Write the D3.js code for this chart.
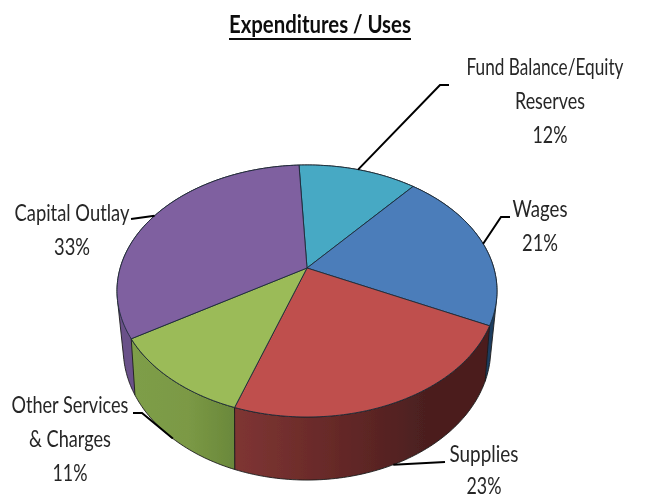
<!DOCTYPE html>
<html><head><meta charset="utf-8">
<script src="https://cdn.jsdelivr.net/npm/d3@7"></script>
<style>html,body{margin:0;padding:0;background:#fff;overflow:hidden}text{font-family:Lato,"Liberation Sans",sans-serif}</style>
</head><body><svg id="c" width="645" height="500"></svg>
<script>
const categories = ["Fund Balance/Equity Reserves","Wages","Supplies","Other Services & Charges","Capital Outlay"];
const values = [12,21,23,11,33];
const topColors = ["#46a9c4","#4b7dba","#bf504d","#9bbb59","#7f60a0"];
const labelLines = [["Fund Balance/Equity","Reserves","12%"],["Wages","21%"],["Supplies","23%"],["Other Services","& Charges","11%"],["Capital Outlay","33%"]];
const labelWidths = [[157,70,35],[55,36],[69,35],[117,82,35],[115,36]];
const labelCenters = [[545,75,550],[540,217],[484,462],[70,413],[72,221]];
const labelGaps = [34,34,32,34,34];
const leaderBends = [[[440,85],[449,85]],[[501,217],[510,217]],[[445,462]],[[142,413],[133,413]],[[131,219]]];
const leaderOnBottomRim = [false,false,true,true,false];
const title = "Expenditures / Uses";

const svg = d3.select("#c");
const defs = svg.append("defs");
defs.append("filter").attr("id","soft").append("feGaussianBlur").attr("stdDeviation",0.45);
const root = svg.append("g").attr("filter","url(#soft)");

// perspective projection of the disc: centre x, radius, apex, tilt, foreshortening
const cx = 307;
const topDisc = {R:186.8,b:268,a:-72.9,c:0.1825};
const botDisc = {R:179.5,b:321.1,a:-56.4,c:0.2136};
const project = (d,ang)=>{const x=Math.sin(ang),y=Math.cos(ang),w=1+d.c*y;return [cx+d.R*x/w,(d.b+d.a*y)/w];};

const pie = d3.pie().sort(null).value(v=>v).startAngle(-2.9*Math.PI/180).endAngle((360-2.9)*Math.PI/180);
const arcs = pie(values);
const step = Math.PI/180;
const rim = (d,a0,a1)=>{const n=Math.max(2,Math.ceil((a1-a0)/step));return d3.range(n+1).map(i=>project(d,a0+(a1-a0)*i/n));};
const line = d3.line();

const wallStops = [
 [[0,"#3f93ab"],[1,"#3f93ab"]],
 [[0,"#1a3553"],[1,"#1f3d60"]],
 [[0,"#7f3533"],[0.45,"#622726"],[0.75,"#4b1f1f"],[1,"#4b1f1f"]],
 [[0,"#7e9e48"],[0.55,"#7b9945"],[1,"#6a883b"]],
 [[0,"#6b5189"],[1,"#6b5189"]]
];
arcs.forEach((a,i)=>{
  const xs=rim(topDisc,a.startAngle,a.endAngle).map(p=>p[0]);
  const g=defs.append("linearGradient").attr("id","w"+i).attr("gradientUnits","userSpaceOnUse")
    .attr("x1",d3.min(xs)).attr("x2",d3.max(xs)).attr("y1",0).attr("y2",0);
  wallStops[i].forEach(s=>g.append("stop").attr("offset",s[0]).attr("stop-color",s[1]));
});
// walls back to front, top faces above. The two walls reaching the silhouette use the hull of
// their rims, so the outline runs straight from the top rim to the bottom rim.
const hullWall=new Set([1,4]);
const wallPath=a=>{
  const t=rim(topDisc,a.startAngle,a.endAngle),b=rim(botDisc,a.startAngle,a.endAngle);
  return line(hullWall.has(a.index)?d3.polygonHull(t.concat(b)):t.concat(b.reverse()))+"Z";
};
const order=[0,4,1,3,2];
root.selectAll("path.wall").data(order.map(i=>arcs[i])).join("path").attr("class","wall")
  .attr("d",wallPath)
  .attr("fill",a=>`url(#w${a.index})`).attr("stroke","#1c1c1c").attr("stroke-width",0.9);
root.selectAll("path.face").data(arcs).join("path").attr("class","face")
  .attr("d",a=>line([[cx,topDisc.b]].concat(rim(topDisc,a.startAngle,a.endAngle)))+"Z")
  .attr("fill",a=>topColors[a.index]).attr("stroke","#1c2a38").attr("stroke-width",0.9).attr("stroke-linejoin","round");

// leaders
arcs.forEach((a,i)=>{
  const mid=(a.startAngle+a.endAngle)/2;
  const s=project(leaderOnBottomRim[i]?botDisc:topDisc,mid);
  root.append("path").attr("d",line([s].concat(leaderBends[i]))).attr("fill","none").attr("stroke","#000").attr("stroke-width",2);
});

// text squeezed horizontally to the reference's condensed widths
const fitted=(t,x,y,width,size,weight,fill)=>{
  const el=root.append("text").attr("font-size",size).attr("font-weight",weight).attr("fill",fill).text(t);
  const k=width/el.node().getComputedTextLength();
  el.attr("transform",`translate(${x},${y}) scale(${k},1)`);
};
labelLines.forEach((lines,i)=>{
  const c=labelCenters[i];
  lines.forEach((t,j)=>{
    const x=(c.length>2&&j>0)?c[2]:c[0];
    fitted(t,x-labelWidths[i][j]/2,c[1]+j*labelGaps[i],labelWidths[i][j],24,400,"#262626");
  });
});
fitted(title,229,33,182,25,700,"#111");
root.append("line").attr("x1",229).attr("x2",411).attr("y1",39).attr("y2",39).attr("stroke","#111").attr("stroke-width",2);
</script></body></html>
